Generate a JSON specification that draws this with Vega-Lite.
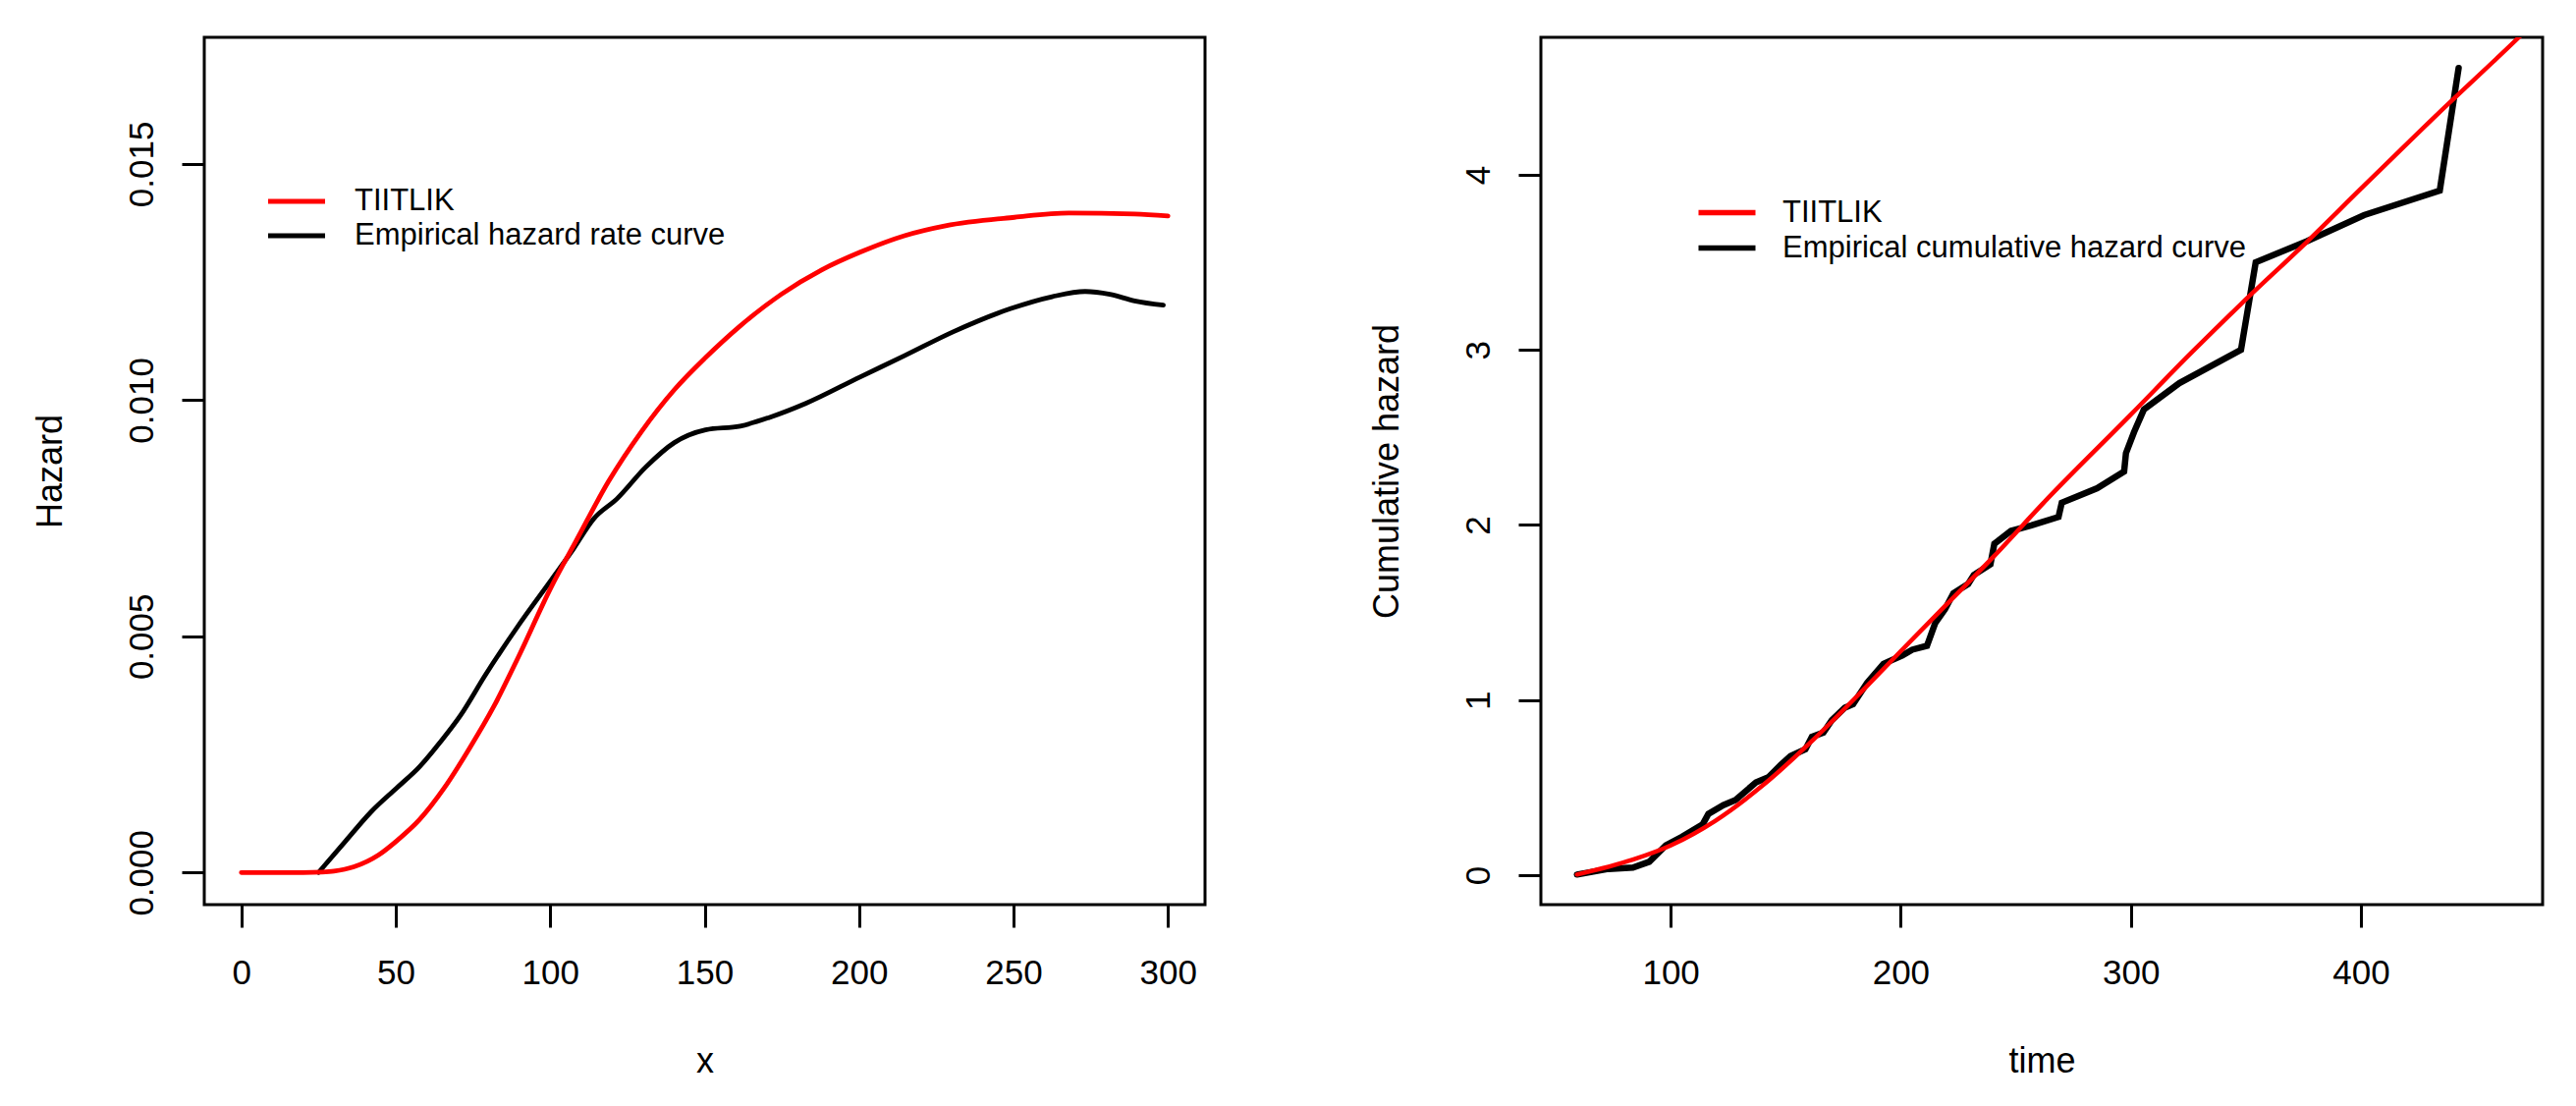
{
  "$schema": "https://vega.github.io/schema/vega-lite/v6.json",
  "background": "white",
  "padding": {"left": 31, "top": 36, "right": 0, "bottom": 0},
  "spacing": 163,
  "config": {
    "font": "Liberation Sans",
    "view": {"stroke": "black", "strokeWidth": 3},
    "axis": {
      "domain": false, "grid": false,
      "tickColor": "black", "tickWidth": 3, "tickSize": 23,
      "labelFont": "Liberation Sans", "labelFontSize": 35, "labelColor": "black",
      "labelFlush": false, "labelOverlap": false,
      "titleFont": "Liberation Sans", "titleFontSize": 36, "titleFontWeight": "normal", "titleColor": "black"
    },
    "axisX": {"labelPadding": 29, "titlePadding": 55},
    "axisY": {"labelPadding": 23, "titlePadding": 57, "labelAngle": -90, "labelAlign": "center", "labelBaseline": "bottom"},
    "legend": {"labelFont": "Liberation Sans", "labelFontSize": 31, "labelColor": "black",
               "symbolType": "M-1.657,0H1.657", "symbolSize": 1225, "symbolStrokeWidth": 5, "rowPadding": 0,
               "title": null, "labelLimit": 0, "padding": 0}
  },
  "datasets": {
    "haz": [
      {"x": 0, "y": 0, "s": " TIITLIK"},
      {"x": 10, "y": 0, "s": " TIITLIK"},
      {"x": 20, "y": 0, "s": " TIITLIK"},
      {"x": 26, "y": 0.00001, "s": " TIITLIK"},
      {"x": 30, "y": 0.00003, "s": " TIITLIK"},
      {"x": 36.4, "y": 0.00012, "s": " TIITLIK"},
      {"x": 44.4, "y": 0.00037, "s": " TIITLIK"},
      {"x": 50.3, "y": 0.00067, "s": " TIITLIK"},
      {"x": 57.7, "y": 0.00112, "s": " TIITLIK"},
      {"x": 65.7, "y": 0.00179, "s": " TIITLIK"},
      {"x": 73.7, "y": 0.00261, "s": " TIITLIK"},
      {"x": 81.7, "y": 0.00351, "s": " TIITLIK"},
      {"x": 89.6, "y": 0.00455, "s": " TIITLIK"},
      {"x": 100.3, "y": 0.00604, "s": " TIITLIK"},
      {"x": 108.3, "y": 0.00701, "s": " TIITLIK"},
      {"x": 118.9, "y": 0.00828, "s": " TIITLIK"},
      {"x": 129.5, "y": 0.00933, "s": " TIITLIK"},
      {"x": 140.2, "y": 0.01022, "s": " TIITLIK"},
      {"x": 150.3, "y": 0.0109, "s": " TIITLIK"},
      {"x": 161.5, "y": 0.01157, "s": " TIITLIK"},
      {"x": 174.8, "y": 0.01224, "s": " TIITLIK"},
      {"x": 188, "y": 0.01276, "s": " TIITLIK"},
      {"x": 200.3, "y": 0.01313, "s": " TIITLIK"},
      {"x": 214.7, "y": 0.01348, "s": " TIITLIK"},
      {"x": 228, "y": 0.01369, "s": " TIITLIK"},
      {"x": 250.3, "y": 0.01387, "s": " TIITLIK"},
      {"x": 267.9, "y": 0.01396, "s": " TIITLIK"},
      {"x": 289.2, "y": 0.01394, "s": " TIITLIK"},
      {"x": 300, "y": 0.0139, "s": " TIITLIK"},
      {"x": 25, "y": 0, "s": "Empirical hazard rate curve"},
      {"x": 33.8, "y": 0.00067, "s": "Empirical hazard rate curve"},
      {"x": 41.8, "y": 0.00127, "s": "Empirical hazard rate curve"},
      {"x": 50.3, "y": 0.00179, "s": "Empirical hazard rate curve"},
      {"x": 57.7, "y": 0.00224, "s": "Empirical hazard rate curve"},
      {"x": 64.4, "y": 0.00276, "s": "Empirical hazard rate curve"},
      {"x": 71, "y": 0.00333, "s": "Empirical hazard rate curve"},
      {"x": 79, "y": 0.00418, "s": "Empirical hazard rate curve"},
      {"x": 89.6, "y": 0.00522, "s": "Empirical hazard rate curve"},
      {"x": 100.3, "y": 0.00619, "s": "Empirical hazard rate curve"},
      {"x": 106.9, "y": 0.00679, "s": "Empirical hazard rate curve"},
      {"x": 114.1, "y": 0.00749, "s": "Empirical hazard rate curve"},
      {"x": 121.6, "y": 0.00791, "s": "Empirical hazard rate curve"},
      {"x": 130.9, "y": 0.00858, "s": "Empirical hazard rate curve"},
      {"x": 140.2, "y": 0.0091, "s": "Empirical hazard rate curve"},
      {"x": 150.3, "y": 0.00937, "s": "Empirical hazard rate curve"},
      {"x": 161.5, "y": 0.00945, "s": "Empirical hazard rate curve"},
      {"x": 170.8, "y": 0.00963, "s": "Empirical hazard rate curve"},
      {"x": 182.7, "y": 0.00993, "s": "Empirical hazard rate curve"},
      {"x": 200.3, "y": 0.01049, "s": "Empirical hazard rate curve"},
      {"x": 214.7, "y": 0.01094, "s": "Empirical hazard rate curve"},
      {"x": 230.6, "y": 0.01145, "s": "Empirical hazard rate curve"},
      {"x": 249.2, "y": 0.01194, "s": "Empirical hazard rate curve"},
      {"x": 262.5, "y": 0.01219, "s": "Empirical hazard rate curve"},
      {"x": 273.2, "y": 0.0123, "s": "Empirical hazard rate curve"},
      {"x": 281.2, "y": 0.01224, "s": "Empirical hazard rate curve"},
      {"x": 289.2, "y": 0.0121, "s": "Empirical hazard rate curve"},
      {"x": 298.5, "y": 0.01201, "s": "Empirical hazard rate curve"}
    ],
    "cum": [
      {"t": 59.3, "y": 0.004, "s": " TIITLIK"},
      {"t": 83.6, "y": 0.089, "s": " TIITLIK"},
      {"t": 100, "y": 0.17, "s": " TIITLIK"},
      {"t": 119.3, "y": 0.31, "s": " TIITLIK"},
      {"t": 140.7, "y": 0.52, "s": " TIITLIK"},
      {"t": 162.1, "y": 0.775, "s": " TIITLIK"},
      {"t": 183.6, "y": 1.057, "s": " TIITLIK"},
      {"t": 200, "y": 1.279, "s": " TIITLIK"},
      {"t": 219.3, "y": 1.538, "s": " TIITLIK"},
      {"t": 240.7, "y": 1.824, "s": " TIITLIK"},
      {"t": 262.1, "y": 2.127, "s": " TIITLIK"},
      {"t": 300, "y": 2.63, "s": " TIITLIK"},
      {"t": 326.4, "y": 2.985, "s": " TIITLIK"},
      {"t": 347.9, "y": 3.262, "s": " TIITLIK"},
      {"t": 376.4, "y": 3.615, "s": " TIITLIK"},
      {"t": 400, "y": 3.92, "s": " TIITLIK"},
      {"t": 433.6, "y": 4.35, "s": " TIITLIK"},
      {"t": 468.7, "y": 4.785, "s": " TIITLIK"},
      {"t": 480, "y": 4.93, "s": " TIITLIK"},
      {"t": 59.3, "y": 0.004, "s": "Empirical cumulative hazard curve"},
      {"t": 72.9, "y": 0.036, "s": "Empirical cumulative hazard curve"},
      {"t": 83.6, "y": 0.044, "s": "Empirical cumulative hazard curve"},
      {"t": 90.7, "y": 0.077, "s": "Empirical cumulative hazard curve"},
      {"t": 97.9, "y": 0.17, "s": "Empirical cumulative hazard curve"},
      {"t": 105, "y": 0.22, "s": "Empirical cumulative hazard curve"},
      {"t": 113.9, "y": 0.29, "s": "Empirical cumulative hazard curve"},
      {"t": 116.4, "y": 0.35, "s": "Empirical cumulative hazard curve"},
      {"t": 122.9, "y": 0.4, "s": "Empirical cumulative hazard curve"},
      {"t": 128.2, "y": 0.43, "s": "Empirical cumulative hazard curve"},
      {"t": 137.1, "y": 0.53, "s": "Empirical cumulative hazard curve"},
      {"t": 142.5, "y": 0.56, "s": "Empirical cumulative hazard curve"},
      {"t": 147.9, "y": 0.63, "s": "Empirical cumulative hazard curve"},
      {"t": 152.1, "y": 0.68, "s": "Empirical cumulative hazard curve"},
      {"t": 158.6, "y": 0.72, "s": "Empirical cumulative hazard curve"},
      {"t": 161.4, "y": 0.79, "s": "Empirical cumulative hazard curve"},
      {"t": 166.4, "y": 0.815, "s": "Empirical cumulative hazard curve"},
      {"t": 170, "y": 0.884, "s": "Empirical cumulative hazard curve"},
      {"t": 175.7, "y": 0.957, "s": "Empirical cumulative hazard curve"},
      {"t": 179.3, "y": 0.977, "s": "Empirical cumulative hazard curve"},
      {"t": 185.4, "y": 1.098, "s": "Empirical cumulative hazard curve"},
      {"t": 192.5, "y": 1.207, "s": "Empirical cumulative hazard curve"},
      {"t": 200.7, "y": 1.255, "s": "Empirical cumulative hazard curve"},
      {"t": 205, "y": 1.288, "s": "Empirical cumulative hazard curve"},
      {"t": 211.4, "y": 1.31, "s": "Empirical cumulative hazard curve"},
      {"t": 215, "y": 1.44, "s": "Empirical cumulative hazard curve"},
      {"t": 219.3, "y": 1.52, "s": "Empirical cumulative hazard curve"},
      {"t": 222.9, "y": 1.61, "s": "Empirical cumulative hazard curve"},
      {"t": 229.3, "y": 1.663, "s": "Empirical cumulative hazard curve"},
      {"t": 231.8, "y": 1.715, "s": "Empirical cumulative hazard curve"},
      {"t": 239, "y": 1.776, "s": "Empirical cumulative hazard curve"},
      {"t": 240.7, "y": 1.893, "s": "Empirical cumulative hazard curve"},
      {"t": 247.9, "y": 1.966, "s": "Empirical cumulative hazard curve"},
      {"t": 256.8, "y": 1.998, "s": "Empirical cumulative hazard curve"},
      {"t": 268.6, "y": 2.046, "s": "Empirical cumulative hazard curve"},
      {"t": 270, "y": 2.127, "s": "Empirical cumulative hazard curve"},
      {"t": 285.4, "y": 2.21, "s": "Empirical cumulative hazard curve"},
      {"t": 297.1, "y": 2.305, "s": "Empirical cumulative hazard curve"},
      {"t": 297.9, "y": 2.41, "s": "Empirical cumulative hazard curve"},
      {"t": 301.4, "y": 2.53, "s": "Empirical cumulative hazard curve"},
      {"t": 305.7, "y": 2.66, "s": "Empirical cumulative hazard curve"},
      {"t": 321.1, "y": 2.81, "s": "Empirical cumulative hazard curve"},
      {"t": 347.9, "y": 3.0, "s": "Empirical cumulative hazard curve"},
      {"t": 354.3, "y": 3.5, "s": "Empirical cumulative hazard curve"},
      {"t": 376.4, "y": 3.62, "s": "Empirical cumulative hazard curve"},
      {"t": 401.4, "y": 3.77, "s": "Empirical cumulative hazard curve"},
      {"t": 434.3, "y": 3.91, "s": "Empirical cumulative hazard curve"},
      {"t": 442.5, "y": 4.61, "s": "Empirical cumulative hazard curve"}
    ]
  },
  "hconcat": [
    {
      "width": 1019,
      "height": 883,
      "data": {"name": "haz"},
      "encoding": {
        "x": {"field": "x", "type": "quantitative", "title": "x",
              "scale": {"domain": [-12, 312], "nice": false, "zero": false},
              "axis": {"values": [0, 50, 100, 150, 200, 250, 300]}},
        "y": {"field": "y", "type": "quantitative", "title": "Hazard",
              "scale": {"domain": [-0.00068, 0.01768], "nice": false, "zero": false},
              "axis": {"values": [0, 0.005, 0.01, 0.015], "format": ".3f"}},
        "color": {"field": "s", "type": "nominal",
                  "scale": {"domain": [" TIITLIK", "Empirical hazard rate curve"], "range": ["#ff0000", "#000000"]},
                  "legend": {"orient": "none", "legendX": 74, "legendY": 147, "labelOffset": 39}}
      },
      "layer": [
        {"transform": [{"filter": "datum.s === 'Empirical hazard rate curve'"}],
         "mark": {"type": "line", "strokeWidth": 4.8, "clip": true, "strokeCap": "round", "interpolate": "monotone"}},
        {"transform": [{"filter": "datum.s === ' TIITLIK'"}],
         "mark": {"type": "line", "strokeWidth": 4.8, "clip": true, "strokeCap": "round", "interpolate": "monotone"}}
      ]
    },
    {
      "width": 1020,
      "height": 883,
      "data": {"name": "cum"},
      "encoding": {
        "x": {"field": "t", "type": "quantitative", "title": "time",
              "scale": {"domain": [43.6, 479], "nice": false, "zero": false},
              "axis": {"values": [100, 200, 300, 400]}},
        "y": {"field": "y", "type": "quantitative", "title": "Cumulative hazard",
              "scale": {"domain": [-0.168, 4.785], "nice": false, "zero": false},
              "axis": {"values": [0, 1, 2, 3, 4], "format": "d"}},
        "color": {"field": "s", "type": "nominal",
                  "scale": {"domain": [" TIITLIK", "Empirical cumulative hazard curve"], "range": ["#ff0000", "#000000"]},
                  "legend": {"orient": "none", "legendX": 169, "legendY": 158, "labelOffset": 36, "symbolStrokeWidth": 5.5}}
      },
      "layer": [
        {"transform": [{"filter": "datum.s === 'Empirical cumulative hazard curve'"}],
         "mark": {"type": "line", "strokeWidth": 6.5, "clip": true, "strokeCap": "round", "strokeJoin": "miter"}},
        {"transform": [{"filter": "datum.s === ' TIITLIK'"}],
         "mark": {"type": "line", "strokeWidth": 4.5, "clip": true, "strokeCap": "round", "interpolate": "monotone"}}
      ]
    }
  ],
  "resolve": {"scale": {"color": "independent", "x": "independent", "y": "independent"}, "legend": {"color": "independent"}}
}
